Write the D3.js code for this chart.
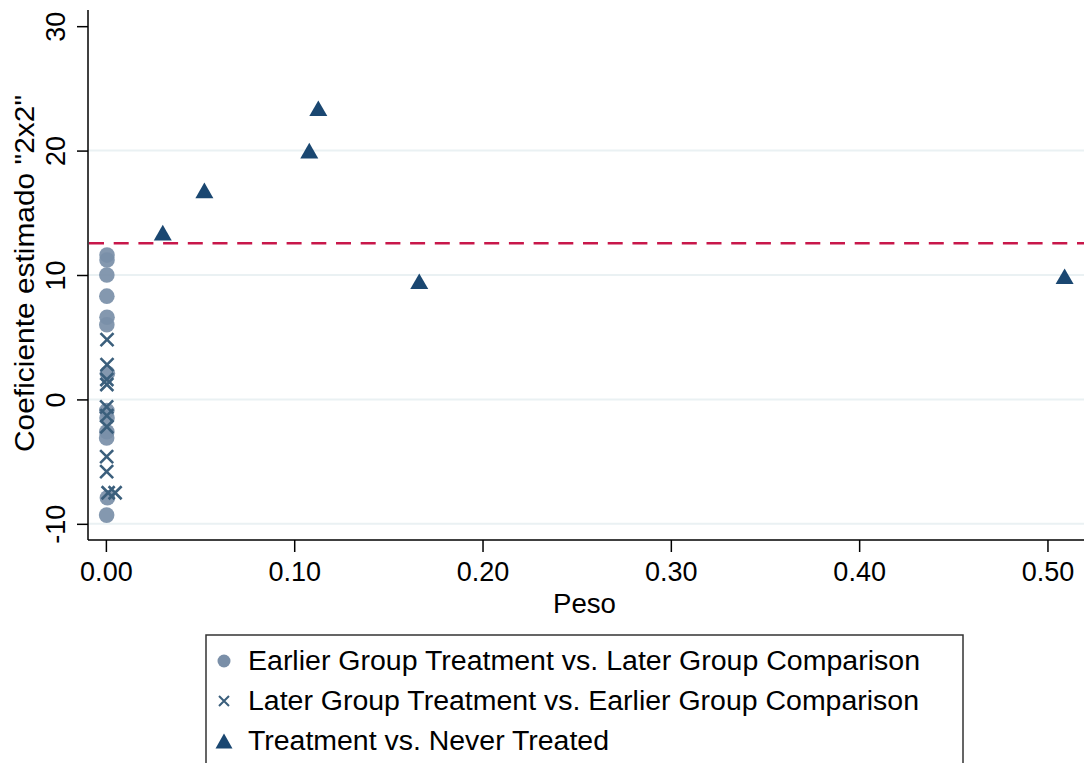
<!DOCTYPE html>
<html>
<head>
<meta charset="utf-8">
<script src="https://cdn.jsdelivr.net/npm/d3@7"></script>
<style>
  body { margin: 0; background: #fff; }
  svg text { font-family: "Liberation Sans", Arial, sans-serif; fill: #000; }
</style>
</head>
<body>
<script>
// Data: [peso, coeficiente]
var earlierVsLater = [
  [0.0006, 11.6], [0.0006, 11.2], [0.0005, 10.0], [0.0005, 8.3],
  [0.0006, 6.6], [0.0005, 6.0], [0.0008, 2.1], [0.0005, -0.9],
  [0.0006, -1.5], [0.0005, -2.6], [0.0004, -3.1], [0.0008, -7.9],
  [0.0004, -9.3]
];
var laterVsEarlier = [
  [0.0006, 4.8], [0.0006, 2.8], [0.0005, 1.6], [0.0005, 1.2],
  [0.0004, -0.6], [0.0005, -1.3], [0.0005, -2.2], [0.0004, -4.6],
  [0.0004, -5.8], [0.0012, -7.5], [0.0049, -7.5]
];
var treatVsNever = [
  [0.0302, 13.4], [0.0523, 16.8], [0.1080, 20.0], [0.1128, 23.4],
  [0.1664, 9.5], [0.5091, 9.9]
];
var overallEstimate = 12.55;

var xTicks = [0, 0.1, 0.2, 0.3, 0.4, 0.5];
var yTicks = [-10, 0, 10, 20, 30];
var yGrid = [-10, 0, 10, 20];
var legendLabels = [
  "Earlier Group Treatment vs. Later Group Comparison",
  "Later Group Treatment vs. Earlier Group Comparison",
  "Treatment vs. Never Treated"
];
var legendWidths = [672, 671, 361];

var width = 1084, height = 763;
var plot = { left: 88, right: 1084, top: 10, bottom: 540 };

var svg = d3.select('body').append('svg')
  .attr('width', width)
  .attr('height', height);

var x = d3.scaleLinear().domain([-0.0095, 0.5194]).range([plot.left, plot.right]);
var y = d3.scaleLinear().domain([-11.3, 31.3]).range([plot.bottom, plot.top]);

// grid lines
svg.append('g').selectAll('line')
  .data(yGrid)
  .enter().append('line')
  .attr('x1', plot.left).attr('x2', plot.right)
  .attr('y1', d => y(d)).attr('y2', d => y(d))
  .style('stroke', '#eaf1f3')
  .style('stroke-width', 2);

// x axis
var xAxis = svg.append('g')
  .attr('transform', 'translate(0,' + plot.bottom + ')')
  .call(d3.axisBottom(x).tickValues(xTicks).tickFormat(d3.format('.2f')).tickSize(12).tickSizeOuter(0).tickPadding(10));
xAxis.select('.domain').attr('d', 'M' + plot.left + ',0H' + plot.right);
xAxis.selectAll('line, path').style('stroke', '#000').style('stroke-width', 1.5);
xAxis.selectAll('text').style('font-size', '27px').attr('fill', '#000');

// y axis, hyphen-minus like the original
var yAxis = svg.append('g')
  .attr('transform', 'translate(' + plot.left + ',0)')
  .call(d3.axisLeft(y).tickValues(yTicks).tickFormat(d => String(d)).tickSize(11).tickSizeOuter(0));
yAxis.select('.domain').attr('d', 'M0,' + plot.top + 'V' + plot.bottom);
yAxis.selectAll('line, path').style('stroke', '#000').style('stroke-width', 1.5);
yAxis.selectAll('text')
  .style('font-size', '27px')
  .attr('fill', '#000')
  .attr('x', 0).attr('dy', 0)
  .attr('text-anchor', 'middle')
  .attr('transform', 'translate(-23,0) rotate(-90)');

// axis titles
svg.append('text')
  .attr('x', 553).attr('y', 613)
  .attr('textLength', 63)
  .attr('lengthAdjust', 'spacingAndGlyphs')
  .style('font-size', '27px')
  .text('Peso');

svg.append('text')
  .attr('transform', 'translate(34,452) rotate(-90)')
  .attr('textLength', 357)
  .attr('lengthAdjust', 'spacingAndGlyphs')
  .style('font-size', '27px')
  .text('Coeficiente estimado "2x2"');

// overall DD estimate
svg.append('line')
  .attr('x1', plot.left + 1).attr('x2', plot.right)
  .attr('y1', y(overallEstimate)).attr('y2', y(overallEstimate))
  .style('stroke', '#c8174a')
  .style('stroke-width', 2.5)
  .style('stroke-dasharray', '15,9.7');

function trianglePath(s) {
  var h = s * 0.87;
  return 'M0,' + (-h / 2) + 'L' + (s / 2) + ',' + (h / 2) + 'L' + (-s / 2) + ',' + (h / 2) + 'Z';
}
function crossPath(s) {
  var r = s / 2;
  return 'M' + (-r) + ',' + (-r) + 'L' + r + ',' + r + 'M' + r + ',' + (-r) + 'L' + (-r) + ',' + r;
}

// circles
svg.append('g').selectAll('circle')
  .data(earlierVsLater)
  .enter().append('circle')
  .attr('cx', d => x(d[0]))
  .attr('cy', d => y(d[1]))
  .attr('r', 7.8)
  .style('fill', '#7a8fa8')
  .style('opacity', 0.92);

// crosses
svg.append('g').selectAll('path')
  .data(laterVsEarlier)
  .enter().append('path')
  .attr('transform', d => 'translate(' + x(d[0]) + ',' + y(d[1]) + ')')
  .attr('d', crossPath(13))
  .style('fill', 'none')
  .style('stroke', '#3b5f7c')
  .style('stroke-width', 2.6);

// triangles
svg.append('g').selectAll('path')
  .data(treatVsNever)
  .enter().append('path')
  .attr('transform', d => 'translate(' + x(d[0]) + ',' + y(d[1]) + ')')
  .attr('d', trianglePath(18))
  .style('fill', '#1a4771');

// legend
var legend = svg.append('g');
legend.append('rect')
  .attr('x', 206).attr('y', 635)
  .attr('width', 757).attr('height', 140)
  .style('fill', '#fff')
  .style('stroke', '#333')
  .style('stroke-width', 1.5);

var rows = legend.selectAll('g.row')
  .data(legendLabels)
  .enter().append('g')
  .attr('class', 'row')
  .attr('transform', (d, i) => 'translate(224,' + (661 + i * 40) + ')');

rows.append('text')
  .attr('x', 24).attr('dy', '0.35em')
  .attr('textLength', (d, i) => legendWidths[i])
  .attr('lengthAdjust', 'spacingAndGlyphs')
  .style('font-size', '27px')
  .text(d => d);

rows.filter((d, i) => i === 0).append('circle')
  .attr('r', 6.5).style('fill', '#7a8fa8');
rows.filter((d, i) => i === 1).append('path')
  .attr('d', crossPath(10))
  .style('stroke', '#3b5f7c').style('stroke-width', 2).style('fill', 'none');
rows.filter((d, i) => i === 2).append('path')
  .attr('d', trianglePath(17))
  .style('fill', '#1a4771');
</script>
</body>
</html>
